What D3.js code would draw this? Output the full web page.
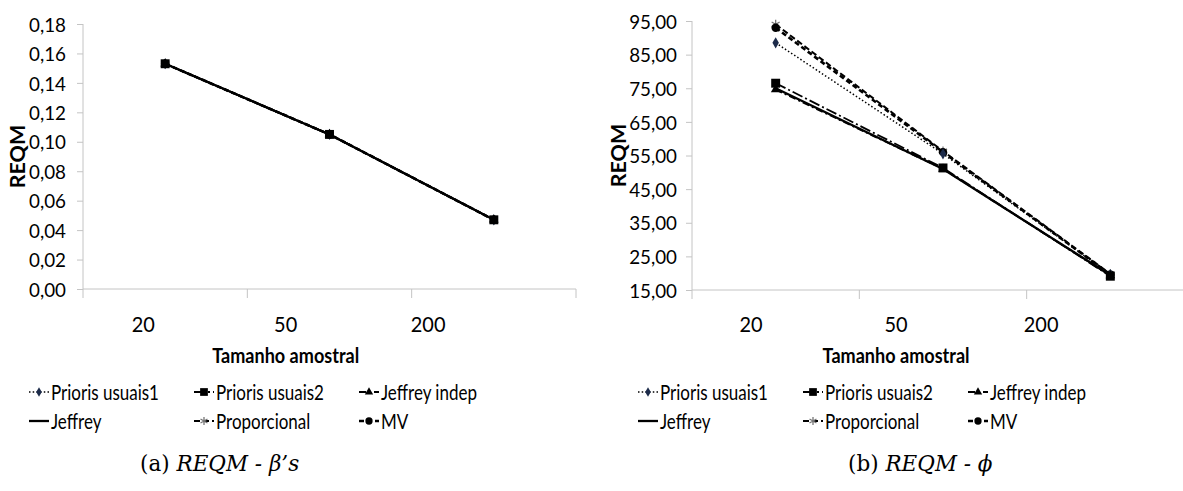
<!DOCTYPE html>
<html><head><meta charset="utf-8">
<script src="https://cdn.jsdelivr.net/npm/d3@7/dist/d3.min.js"></script>
<style>
html,body{margin:0;padding:0;background:#fff;}
svg{display:block;}
</style></head>
<body>
<svg id="chart" width="1183" height="491"></svg>
<script>
// ---------------- DATA ----------------
const categories = ["20", "50", "200"];
const seriesNames = ["Prioris usuais1", "Prioris usuais2", "Jeffrey indep", "Jeffrey", "Proporcional", "MV"];

// Panel (a): REQM - beta's
const betaPrioris1 = [0.153, 0.105, 0.047];
const betaPrioris2 = [0.153, 0.105, 0.047];
const betaJeffreyIndep = [0.153, 0.105, 0.047];
const betaJeffrey = [0.153, 0.105, 0.047];
const betaProporcional = [0.153, 0.105, 0.047];
const betaMV = [0.153, 0.105, 0.047];
const betaTicks = [0, 0.02, 0.04, 0.06, 0.08, 0.10, 0.12, 0.14, 0.16, 0.18];

// Panel (b): REQM - phi
const phiPrioris1 = [88.5, 55.5, 19.6];
const phiPrioris2 = [76.5, 51.3, 19.1];
const phiJeffreyIndep = [74.6, 51.0, 19.3];
const phiJeffrey = [75.0, 51.0, 19.4];
const phiProporcional = [94.0, 56.3, 19.8];
const phiMV = [93.0, 56.0, 19.6];
const phiTicks = [15, 25, 35, 45, 55, 65, 75, 85, 95];

// ---------------- STYLES ----------------
const styles = {
  "Prioris usuais1": {dash: "1.5,2.2", width: 1.5, marker: "diamond", fill: "#1c2b4a", size: 36},
  "Prioris usuais2": {dash: "11,3,2,3", width: 1.8, marker: "square", fill: "#000", size: 80},
  "Jeffrey indep":   {dash: "7,3,2,3", width: 1.8, marker: "triangle", fill: "#000", size: 40},
  "Jeffrey":         {dash: null, width: 2.3, marker: null, fill: "#000", size: 0},
  "Proporcional":    {dash: "6,3", width: 2, marker: "star", fill: "#777", size: 60},
  "MV":              {dash: "5,3", width: 2.6, marker: "circle", fill: "#000", size: 56}
};
const drawOrder = ["Jeffrey", "Proporcional", "MV", "Prioris usuais1", "Jeffrey indep", "Prioris usuais2"];
const symbolType = {diamond: d3.symbolDiamond, square: d3.symbolSquare, triangle: d3.symbolTriangle, star: d3.symbolAsterisk, circle: d3.symbolCircle};

const FONT = "Lato, 'Open Sans', sans-serif";
const svg = d3.select("#chart");
const fmt = v => v.toFixed(2).replace(".", ",");

function ctext(g, x, y, str, opt) {
  opt = opt || {};
  return g.append("text")
    .attr("transform", `translate(${x},${y}) scale(${opt.sx || 0.85},1)`)
    .attr("text-anchor", opt.anchor || "start")
    .attr("font-family", FONT)
    .attr("font-size", opt.size || 20)
    .attr("font-weight", opt.weight || "normal")
    .attr("fill", "#000")
    .text(str);
}

function drawMarker(g, type, x, y, st) {
  if (!type) return;
  const p = d3.symbol().type(symbolType[type]).size(st.size)();
  const m = g.append("path").attr("d", p).attr("transform", `translate(${x},${y})`);
  if (type === "star") m.attr("fill", "none").attr("stroke", st.fill).attr("stroke-width", 1.3);
  else m.attr("fill", st.fill).attr("stroke", "none");
}

function panel(cfg) {
  const g = svg.append("g");
  const x = d3.scaleBand().domain(categories).range([cfg.x0, cfg.x1]).paddingInner(0).paddingOuter(0);
  const y = d3.scaleLinear().domain(cfg.domain).range([cfg.yBottom, cfg.yTop]);
  const axisColor = "#c4c4c4";

  // y axis
  const ya = g.append("g").attr("transform", `translate(${cfg.x0},0)`)
    .call(d3.axisLeft(y).tickValues(cfg.ticks).tickFormat(fmt).tickSize(6).tickSizeOuter(0));
  ya.select(".domain").attr("stroke", axisColor).attr("d", `M0,${cfg.yTop}V${cfg.yBottom + 9}`);
  ya.selectAll(".tick line").attr("stroke", axisColor);
  ya.selectAll(".tick text")
    .attr("x", 0).attr("dy", "0.36em")
    .attr("transform", `translate(${-cfg.labelGap},0) scale(0.94,1)`)
    .attr("font-family", FONT).attr("font-size", 20).attr("fill", "#000");

  // x axis
  const xa = g.append("g").attr("transform", `translate(0,${cfg.yBottom})`)
    .call(d3.axisBottom(x).tickSize(0).tickFormat(""));
  xa.select(".domain").attr("stroke", axisColor).attr("d", `M${cfg.x0},0H${cfg.x1}`);
  xa.selectAll(".tick").remove();
  const bounds = categories.map(c => x(c) + x.bandwidth());
  xa.selectAll("line.bt").data(bounds).join("line").attr("class", "bt")
    .attr("x1", d => d).attr("x2", d => d).attr("y1", 0).attr("y2", 9)
    .attr("stroke", axisColor);

  // category labels (compressed layout)
  const lx = v => cfg.origin + 0.867 * (v - cfg.origin);
  categories.forEach(c => {
    ctext(g, lx(x(c) + x.bandwidth() / 2), 332, c, {anchor: "middle", size: 21, sx: 0.95});
  });
  ctext(g, lx((cfg.x0 + cfg.x1) / 2), 363, "Tamanho amostral", {anchor: "middle", size: 21, weight: "bold", sx: 0.86});

  // y title
  g.append("text").attr("transform", `translate(${cfg.titleX},${(cfg.yTop + cfg.yBottom) / 2}) rotate(-90)`)
    .attr("text-anchor", "middle").attr("font-family", FONT).attr("font-size", 21.5)
    .attr("font-weight", "bold").text("REQM");

  // lines
  const line = d3.line().x((d, i) => x(categories[i]) + x.bandwidth() / 2).y(d => y(d));
  drawOrder.forEach(name => {
    const st = styles[name];
    const vals = cfg.data[name];
    g.append("path").attr("d", line(vals)).attr("fill", "none").attr("stroke", "#000")
      .attr("stroke-width", st.width).attr("stroke-dasharray", st.dash);
    vals.forEach((v, i) => drawMarker(g, st.marker, x(categories[i]) + x.bandwidth() / 2, y(v), st));
  });

  // legend
  const lg0 = cfg.x0 - 54;
  seriesNames.forEach((name, i) => {
    const st = styles[name];
    const col = i % 3, row = Math.floor(i / 3);
    const sx = lg0 + col * 165, sy = row === 0 ? 392 : 421;
    g.append("line").attr("x1", sx).attr("x2", sx + 20).attr("y1", sy).attr("y2", sy)
      .attr("stroke", "#000").attr("stroke-width", st.width).attr("stroke-dasharray", st.dash);
    drawMarker(g, st.marker, sx + 10, sy, Object.assign({}, st, {size: st.size * 0.75}));
    ctext(g, sx + 22, sy + 7.5, name, {size: 21, sx: 0.81});
  });

  // caption
  const cap = g.append("text").attr("x", cfg.capX).attr("y", 471)
    .attr("font-family", "'DejaVu Serif', 'Liberation Serif', serif").attr("font-size", 21.5);
  cap.append("tspan").text(cfg.capLetter + "  ");
  cap.append("tspan").attr("font-style", "italic").text(cfg.capRest);
}

panel({
  x0: 83, x1: 576, yTop: 24, yBottom: 289, domain: [0, 0.18], ticks: betaTicks,
  labelGap: 17, titleX: 25, origin: 0, capX: 140, capLetter: "(a)", capRest: "REQM - β’s",
  data: {"Prioris usuais1": betaPrioris1, "Prioris usuais2": betaPrioris2, "Jeffrey indep": betaJeffreyIndep,
         "Jeffrey": betaJeffrey, "Proporcional": betaProporcional, "MV": betaMV}
});
panel({
  x0: 692, x1: 1194, yTop: 21, yBottom: 290, domain: [15, 95], ticks: phiTicks,
  labelGap: 15, titleX: 626, origin: 590, capX: 848, capLetter: "(b)", capRest: "REQM - ϕ",
  data: {"Prioris usuais1": phiPrioris1, "Prioris usuais2": phiPrioris2, "Jeffrey indep": phiJeffreyIndep,
         "Jeffrey": phiJeffrey, "Proporcional": phiProporcional, "MV": phiMV}
});
</script>
</body></html>
